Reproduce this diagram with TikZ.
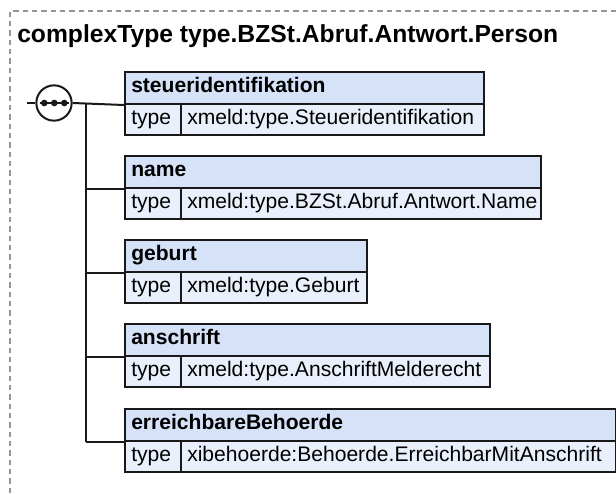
\documentclass[tikz,border=0pt]{standalone}
\usepackage{fontspec}
\setmainfont{Liberation Sans}
\definecolor{hdrfill}{RGB}{214,226,247}
\definecolor{rowfill}{RGB}{234,240,251}
\definecolor{linec}{RGB}{25,25,25}
\definecolor{dashc}{RGB}{150,150,150}
\begin{document}
\begin{tikzpicture}[x=0.75pt,y=-0.75pt,
  cell/.style={draw=linec, line width=1.5pt, rectangle, inner sep=0pt, anchor=north west, minimum height=23.25pt},
  hdr/.style={cell, fill=hdrfill, minimum height=24pt},
  typecell/.style={cell, fill=rowfill, minimum width=42pt},
  valcell/.style={cell, fill=rowfill},
  hdrtext/.style={anchor=base west, inner sep=0pt, font=\bfseries\fontsize{15.8pt}{18pt}\selectfont},
  rowtext/.style={anchor=base west, inner sep=0pt, font=\fontsize{15.8pt}{18pt}\selectfont},
  conn/.style={draw=linec, line width=1.5pt},
  seqc/.style={circle, draw=linec, line width=1.5pt, fill=white, minimum size=26.5pt, inner sep=0pt},
  seqdot/.style={circle, fill=linec, minimum size=5pt, inner sep=0pt},
  frame/.style={draw=dashc, line width=0.9pt, dash pattern=on 4pt off 3pt}
]
\useasboundingbox (0,0) rectangle (616,493);
\draw[frame] (10,493) -- (10,11) -- (616,11);
\node[anchor=base west, inner sep=0pt, font=\bfseries\fontsize{18.5pt}{22pt}\selectfont] (title) at (17,42.3) {complexType type.BZSt.Abruf.Antwort.Person};

\foreach \i/\ytop/\nm/\val/\r in {1/71/steueridentifikation/xmeld:type.Steueridentifikation/483,
  2/155/name/xmeld:type.BZSt.Abruf.Antwort.Name/540,
  3/239/geburt/xmeld:type.Geburt/366,
  4/323/anschrift/xmeld:type.AnschriftMelderecht/489,
  5/408/erreichbareBehoerde/xibehoerde:Behoerde.ErreichbarMitAnschrift/615}{
  \pgfmathsetmacro\yrow{\ytop+32}
  \pgfmathsetmacro\yhb{\ytop+21.7}
  \pgfmathsetmacro\yrb{\ytop+53.2}
  \pgfmathsetmacro\hw{(\r-124)*0.75}
  \pgfmathsetmacro\vw{(\r-180)*0.75}
  \node[hdr, minimum width=\hw pt] (h\i) at (124,\ytop) {};
  \node[typecell] (t\i) at (124,\yrow) {};
  \node[valcell, minimum width=\vw pt] (v\i) at (180,\yrow) {};
  \node[hdrtext] (hn\i) at (131,\yhb) {\nm};
  \node[rowtext] (tn\i) at (131,\yrb) {type};
  \node[rowtext] (vn\i) at (187,\yrb) {\val};
}

\coordinate (stub) at (27,103);
\coordinate (j) at (86,103);
\node[seqc] (seq) at (54,103) {};
\draw[conn] (stub) -- (seq.west);
\draw[conn] (seq.east) -- (h1.south west);
\draw[conn] (j) -- (j |- h5.south west);
\foreach \i in {2,...,5} \draw[conn] (j |- h\i.south west) -- (h\i.south west);
\node[seqdot] (d1) at (44.3,103) {};
\node[seqdot] (d2) at (54.3,103) {};
\node[seqdot] (d3) at (64.3,103) {};
\draw[draw=linec, line width=1.2pt] ([xshift=-3.4pt]d1.center) -- ([xshift=3.4pt]d3.center);
\end{tikzpicture}
\end{document}
